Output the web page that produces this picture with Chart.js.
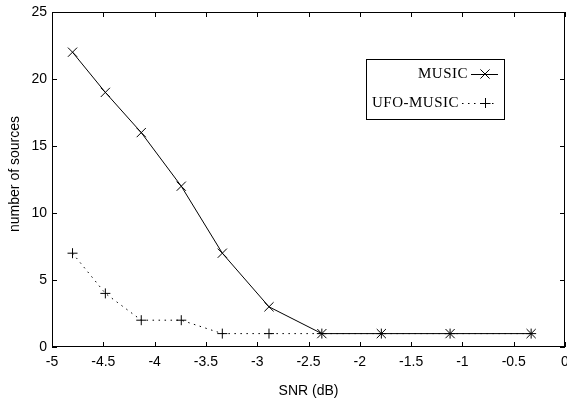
<!DOCTYPE html>
<html>
<head>
<meta charset="utf-8">
<script src="https://cdn.jsdelivr.net/npm/chart.js@4.4.1/dist/chart.umd.min.js"></script>
<style>
  html, body { margin: 0; padding: 0; background: #fff; }
  #wrap { width: 567px; height: 404px; }
</style>
</head>
<body>
<div id="wrap"><canvas id="c" width="567" height="404"></canvas></div>
<script>
// ---- data ----
const snr = [-4.8, -4.48, -4.13, -3.74, -3.34, -2.885, -2.37, -1.79, -1.12, -0.33];
const music = [22, 19, 16, 12, 7, 3, 1, 1, 1, 1];
const ufoMusic = [7, 4, 2, 2, 1, 1, 1, 1, 1, 1];
const seriesNames = ['MUSIC', 'UFO-MUSIC'];
const xTitle = 'SNR (dB)';
const yTitle = 'number of sources';

const toPts = (xs, ys) => xs.map((x, i) => ({x: x, y: ys[i]}));
const fmt = v => String(Math.round(v * 10) / 10);

const framePlugin = {
  id: 'frame',
  afterDatasetsDraw(chart) {
    const {ctx, chartArea: a, scales} = chart;
    const xs = scales.x, ys = scales.y;
    ctx.save();
    ctx.strokeStyle = '#000';
    ctx.lineWidth = 1;
    ctx.strokeRect(Math.round(a.left) + 0.5, Math.round(a.top) + 0.5,
                   Math.round(a.right - a.left) - 1, Math.round(a.bottom - a.top) - 1);
    const L = 5;
    ctx.beginPath();
    xs.ticks.forEach(t => {
      const px = Math.round(xs.getPixelForValue(t.value)) + 0.5;
      ctx.moveTo(px, a.bottom); ctx.lineTo(px, a.bottom - L);
      ctx.moveTo(px, a.top); ctx.lineTo(px, a.top + L);
    });
    ys.ticks.forEach(t => {
      const py = Math.round(ys.getPixelForValue(t.value)) + 0.5;
      ctx.moveTo(a.left, py); ctx.lineTo(a.left + L, py);
      ctx.moveTo(a.right, py); ctx.lineTo(a.right - L, py);
    });
    ctx.stroke();

    // tick labels
    ctx.fillStyle = '#000';
    ctx.font = '14px "Liberation Sans", Arial, sans-serif';
    ctx.textAlign = 'center';
    ctx.textBaseline = 'middle';
    xs.ticks.forEach(t => {
      ctx.fillText(fmt(t.value), xs.getPixelForValue(t.value), a.bottom + 15.5);
    });
    ctx.textAlign = 'right';
    ys.ticks.forEach(t => {
      ctx.fillText(fmt(t.value), a.left - 5, ys.getPixelForValue(t.value) + 0.5);
    });

    // axis titles
    ctx.textAlign = 'center';
    ctx.fillText(xTitle, (a.left + a.right) / 2, 391);
    ctx.save();
    ctx.translate(15, 174);
    ctx.rotate(-Math.PI / 2);
    ctx.fillText(yTitle, 0, 0);
    ctx.restore();

    // legend
    const bx = 366, by = 59, bw = 138, bh = 60;
    ctx.fillStyle = '#fff';
    ctx.fillRect(bx, by, bw, bh);
    ctx.strokeRect(bx + 0.5, by + 0.5, bw, bh);
    ctx.fillStyle = '#000';
    ctx.font = '15px "Liberation Serif", "Times New Roman", serif';
    try { ctx.letterSpacing = '0.5px'; } catch (e) {}
    ctx.textAlign = 'right';
    ctx.textBaseline = 'middle';
    const rows = [{y: 74, tx: 468}, {y: 103, tx: 459}];
    ctx.fillText(seriesNames[0], rows[0].tx, rows[0].y);
    ctx.fillText(seriesNames[1], rows[1].tx, rows[1].y);
    try { ctx.letterSpacing = '0px'; } catch (e) {}
    ctx.strokeStyle = '#000';
    ctx.lineWidth = 1;
    ctx.beginPath();
    ctx.moveTo(471, rows[0].y + 0.5); ctx.lineTo(498, rows[0].y + 0.5);
    ctx.stroke();
    const r1 = 4.6;
    ctx.beginPath();
    ctx.moveTo(485 - r1, rows[0].y - r1); ctx.lineTo(485 + r1, rows[0].y + r1);
    ctx.moveTo(485 - r1, rows[0].y + r1); ctx.lineTo(485 + r1, rows[0].y - r1);
    ctx.stroke();
    ctx.setLineDash([1.5, 4.5]);
    ctx.beginPath();
    ctx.moveTo(462, rows[1].y + 0.5); ctx.lineTo(498, rows[1].y + 0.5);
    ctx.stroke();
    ctx.setLineDash([]);
    const r2 = 5;
    ctx.beginPath();
    ctx.moveTo(485.5 - r2, rows[1].y + 0.5); ctx.lineTo(485.5 + r2, rows[1].y + 0.5);
    ctx.moveTo(485.5, rows[1].y - r2); ctx.lineTo(485.5, rows[1].y + r2);
    ctx.stroke();
    ctx.restore();
  }
};

new Chart(document.getElementById('c'), {
  type: 'scatter',
  data: {
    datasets: [
      {
        label: seriesNames[1],
        data: toPts(snr, ufoMusic),
        showLine: true,
        borderColor: '#000',
        backgroundColor: '#000',
        borderWidth: 1,
        borderDash: [1.5, 4.5],
        pointStyle: 'cross',
        pointRadius: 5,
        pointBorderWidth: 1,
        pointBorderColor: '#000',
        tension: 0
      },
      {
        label: seriesNames[0],
        data: toPts(snr, music),
        showLine: true,
        borderColor: '#000',
        backgroundColor: '#000',
        borderWidth: 1,
        pointStyle: 'crossRot',
        pointRadius: 6.5,
        pointBorderWidth: 1,
        pointBorderColor: '#000',
        tension: 0
      }
    ]
  },
  options: {
    responsive: false,
    animation: false,
    layout: { autoPadding: false, padding: { top: 12, right: 2, bottom: 0, left: 0 } },
    plugins: { legend: { display: false }, tooltip: { enabled: false } },
    scales: {
      x: {
        type: 'linear',
        min: -5, max: 0,
        ticks: { stepSize: 0.5, display: false },
        grid: { display: false, drawTicks: false },
        border: { display: false },
        afterFit: s => { s.height = 57; }
      },
      y: {
        type: 'linear',
        min: 0, max: 25,
        ticks: { stepSize: 5, display: false },
        grid: { display: false, drawTicks: false },
        border: { display: false },
        afterFit: s => { s.width = 52; }
      }
    }
  },
  plugins: [framePlugin]
});
</script>
</body>
</html>
